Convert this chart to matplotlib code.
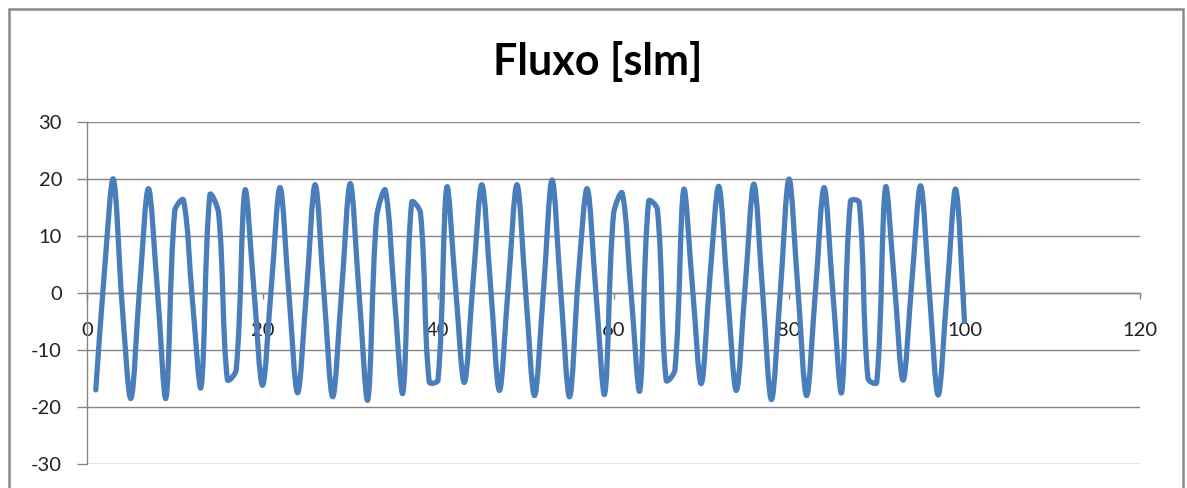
import numpy as np
import matplotlib
matplotlib.use("Agg")
import matplotlib.pyplot as plt
from matplotlib.path import Path
from matplotlib.patches import PathPatch, Rectangle

# Flow samples, one per step
steps = list(range(1, 101))
flow = [
    -17.0, 4.0, 20.0, -2.0, -18.5, 1.0, 18.3, 1.0, -18.4, 14.4,
    16.3, -1.0, -16.5, 17.2, 14.0, -15.2, -13.5, 18.0, 1.0, -16.2,
    1.0, 18.5, 0.0, -17.5, 0.0, 19.0, 0.0, -18.2, 0.0, 19.2,
    0.0, -18.7, 13.2, 18.0, 0.0, -17.5, 15.9, 14.1, -15.6, -15.3,
    18.5, 1.0, -15.7, 2.0, 19.0, 1.0, -17.1, 1.0, 19.0, 0.0,
    -18.0, 0.0, 19.8, 0.0, -18.2, 3.0, 18.3, 0.0, -17.7, 13.8,
    17.5, 0.0, -17.1, 16.1, 14.7, -15.3, -13.5, 18.1, 1.0, -15.9,
    3.0, 18.7, 0.0, -17.1, 1.0, 19.1, 0.0, -18.7, 0.0, 20.0,
    1.0, -18.0, 0.0, 18.5, 0.0, -17.4, 16.1, 15.9, -15.0, -15.7,
    18.5, 2.0, -15.3, 2.0, 18.8, 0.0, -17.9, 0.0, 18.2, -5.0,
]

title = "Fluxo [slm]"
x_ticks = [0, 20, 40, 60, 80, 100, 120]
y_ticks = [-30, -20, -10, 0, 10, 20, 30]

W, H = 1187, 488
grid_gray = "#868686"
line_blue = "#4A7EBB"

plt.rcParams["font.family"] = ["Lato", "DejaVu Sans"]

fig = plt.figure(figsize=(W / 100, H / 100), dpi=100)
fig.patch.set_facecolor("white")

# Chart-area border
fig.add_artist(Rectangle((9 / W, -0.05), (1183 - 9) / W, 1 - 9 / H + 0.05,
                         transform=fig.transFigure, fill=False,
                         edgecolor="#8a8a8a", linewidth=1.8))

ax = fig.add_axes([87 / W, (H - 464) / H, (1140 - 87) / W, (464 - 122) / H])
ax.set_xlim(0, 120)
ax.set_ylim(-30, 30)

# Horizontal gridlines
for v in y_ticks:
    ax.axhline(v, color=grid_gray, linewidth=1.0, zorder=1)

# Axis lines: x-axis crosses at y = 0, y-axis at x = 0
for s in ["top", "right"]:
    ax.spines[s].set_visible(False)
ax.spines["bottom"].set_position(("data", 0))
ax.spines["bottom"].set_color(grid_gray)
ax.spines["bottom"].set_linewidth(1.0)
ax.spines["left"].set_position(("data", 0))
ax.spines["left"].set_color(grid_gray)
ax.spines["left"].set_linewidth(1.0)

ax.set_xticks(x_ticks)
ax.set_xticklabels([str(t) for t in x_ticks])
ax.set_yticks(y_ticks)
ax.set_yticklabels([str(t) for t in y_ticks])
ax.tick_params(axis="x", direction="out", length=4, width=1.0, color=grid_gray,
               pad=17, labelsize=14.5, labelcolor="#222222")
ax.tick_params(axis="y", direction="out", length=7, width=1.0, color=grid_gray,
               pad=11, labelsize=14.5, labelcolor="#222222")

# Smoothed line: cubic Bezier segments built in display space, with the
# tangent at each point scaled by the lengths of its neighbouring segments
pts = ax.transData.transform(np.column_stack([steps, flow]).astype(float))
n = len(pts)
seg = np.linalg.norm(np.diff(pts, axis=0), axis=1)
ctrl_out = np.zeros_like(pts)
ctrl_in = np.zeros_like(pts)
for i in range(n):
    prev_p = pts[max(i - 1, 0)]
    next_p = pts[min(i + 1, n - 1)]
    d_prev = seg[i - 1] if i > 0 else 0.0
    d_next = seg[i] if i < n - 1 else 0.0
    tangent = next_p - prev_p
    tot = d_prev + d_next
    if tot == 0:
        ctrl_out[i] = pts[i]
        ctrl_in[i] = pts[i]
        continue
    ctrl_out[i] = pts[i] + tangent * (d_next / tot) / 3.0
    ctrl_in[i] = pts[i] - tangent * (d_prev / tot) / 3.0

verts = [pts[0]]
codes = [Path.MOVETO]
for i in range(n - 1):
    verts += [ctrl_out[i], ctrl_in[i + 1], pts[i + 1]]
    codes += [Path.CURVE4] * 3
verts = ax.transData.inverted().transform(np.array(verts))
ax.add_patch(PathPatch(Path(verts, codes), fill=False, edgecolor=line_blue,
                       linewidth=3.8, capstyle="round", joinstyle="round",
                       zorder=3))

fig.text(598 / W, 1 - 62 / H, title, ha="center", va="center",
         fontsize=31, fontweight="bold", color="black")

fig.savefig("out.png", dpi=100)
